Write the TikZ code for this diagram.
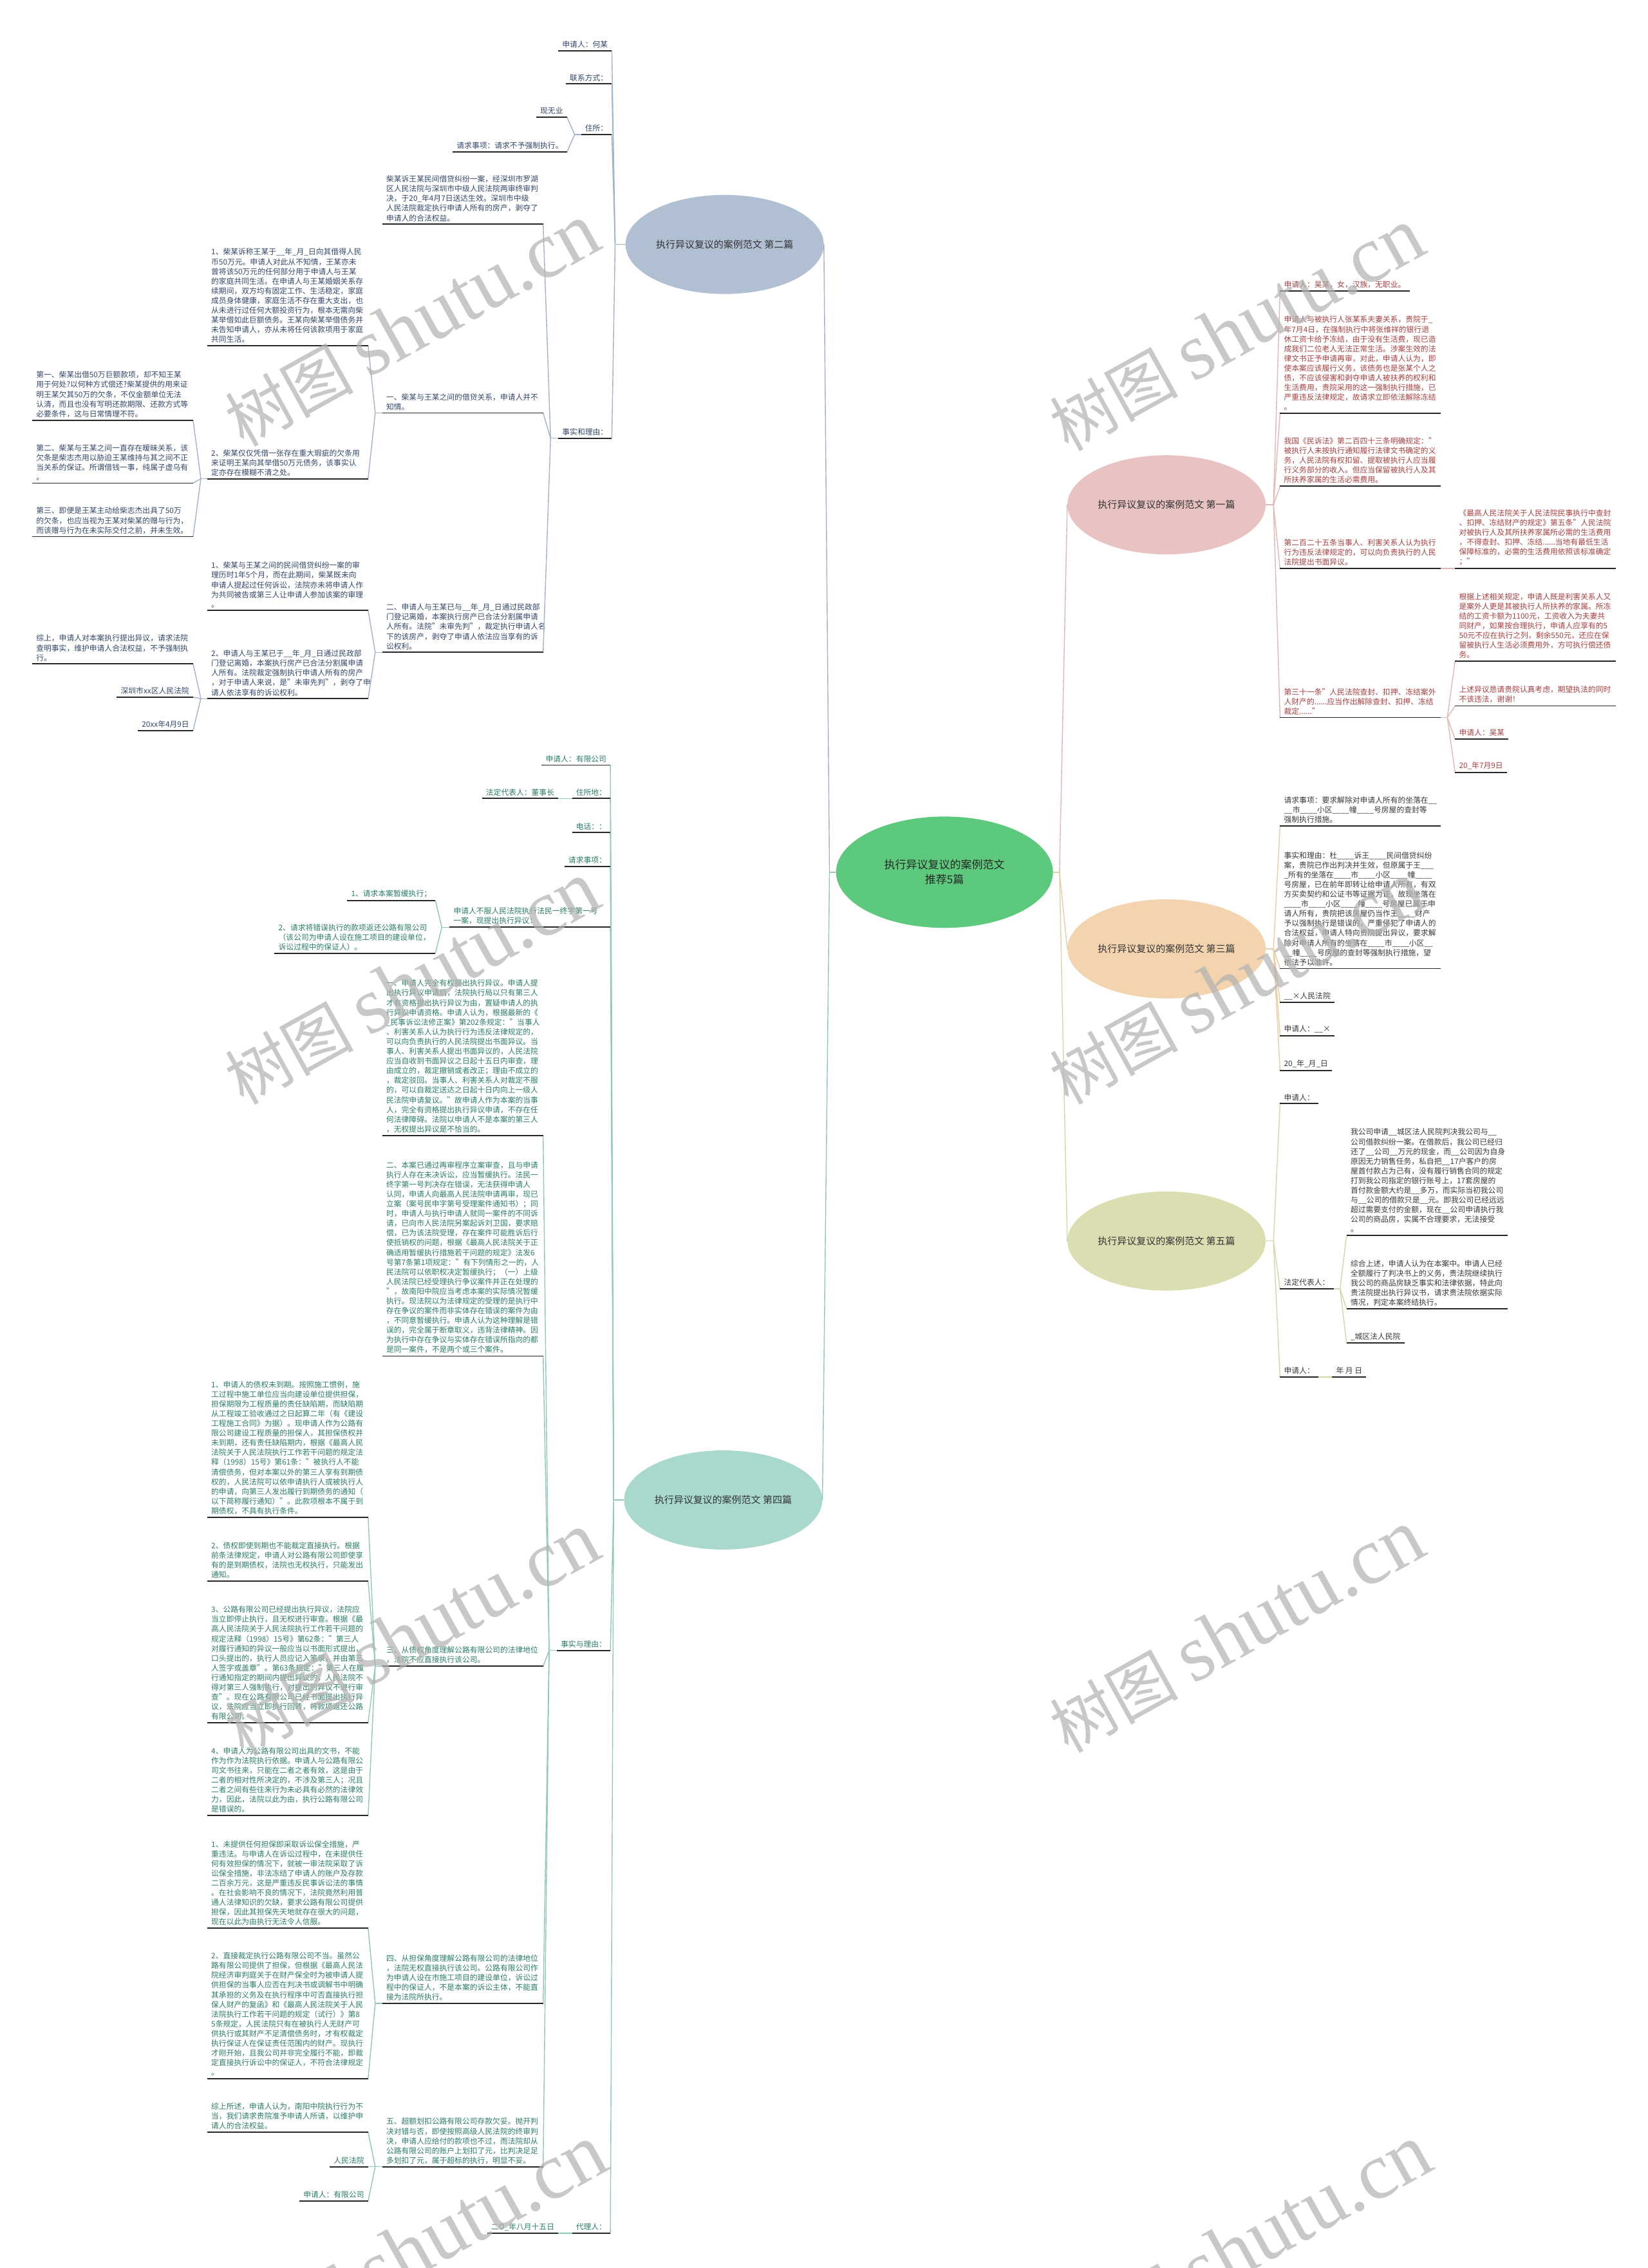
\documentclass[tikz,border=0pt]{standalone}
\usepackage{fontspec}
\setmainfont{Noto Sans CJK SC}
\newfontfamily\wmfont{Liberation Serif}
\usepackage{xcolor}
\usepackage{tikz}
\usetikzlibrary{shapes.geometric}

\definecolor{rootfill}{HTML}{5CC97C}
\definecolor{bluefill}{HTML}{B1BFD3}
\definecolor{blueline}{HTML}{A2B2C8}
\definecolor{bluetext}{HTML}{34476A}
\definecolor{pinkfill}{HTML}{E9C2C2}
\definecolor{pinkline}{HTML}{E3B6B6}
\definecolor{pinktext}{HTML}{A8403F}
\definecolor{peachfill}{HTML}{F4D4AF}
\definecolor{peachline}{HTML}{EBCBA2}
\definecolor{olivefill}{HTML}{DBDEB1}
\definecolor{oliveline}{HTML}{D3D7A9}
\definecolor{tealfill}{HTML}{A8D9CC}
\definecolor{tealline}{HTML}{8FC8B9}
\definecolor{tealtext}{HTML}{2C7D69}
\definecolor{darktext}{HTML}{3A3A3A}

\begin{document}
\begin{tikzpicture}[x=2.2476pt, y=-2.2476pt,
    root/.style={ellipse, fill=rootfill, minimum width=337pt, minimum height=173pt, inner sep=0pt, align=center, font=\fontsize{17}{23}\selectfont, text=black!85},
    topic/.style={ellipse, minimum width=308pt, minimum height=154pt, inner sep=0pt, font=\fontsize{15}{18}\selectfont, text=black!80},
    leaf/.style={inner xsep=6pt, inner ysep=4pt, align=left, font=\fontsize{11.8}{15.1}\selectfont},
    para/.style={text width=237.5pt},
    leafb/.style={leaf, text=bluetext},
    leafp/.style={leaf, text=pinktext},
    leafo/.style={leaf, text=darktext},
    leafg/.style={leaf, text=darktext},
    leaft/.style={leaf, text=tealtext},
    uline/.style={line width=1.8pt, black!85},
    linkb/.style={line width=1.4pt, blueline},
    linkp/.style={line width=1.4pt, pinkline},
    linko/.style={line width=1.4pt, peachline},
    linkg/.style={line width=1.4pt, oliveline},
    linkt/.style={line width=1.4pt, tealline},
    wmark/.style={rotate=29, text=black!30, opacity=0.7, inner sep=0pt}]

    \useasboundingbox[fill=white] (0,0) rectangle (1139,1568);

    % centre and topics
    \node[root] (root) at (653,603) {执行异议复议的案例范文\\推荐5篇};
    \node[topic, fill=bluefill] (b2) at (501,169) {执行异议复议的案例范文 第二篇};
    \node[topic, fill=tealfill] (b4) at (500,1037) {执行异议复议的案例范文 第四篇};
    \node[topic, fill=pinkfill] (b1) at (806.5,349) {执行异议复议的案例范文 第一篇};
    \node[topic, fill=peachfill] (b3) at (806.5,656) {执行异议复议的案例范文 第三篇};
    \node[topic, fill=olivefill] (b5) at (806.5,858) {执行异议复议的案例范文 第五篇};

    % second case (left, top)
    \node[leafb, anchor=south east] (a2name) at (423,35) {申请人：何某};
    \node[leafb, anchor=south east] (a2tel) at (423,58) {联系方式：};
    \node[leafb, anchor=south east] (a2addr) at (423,93) {住所：};
    \node[leafb, anchor=south east] (a2job) at (392,81) {现无业};
    \node[leafb, anchor=south east] (a2req) at (392,105) {请求事项：请求不予强制执行。};
    \node[leafb, anchor=south east] (a2fact) at (423,303) {事实和理由：};
    \node[leafb, para, anchor=south east] (a2case) at (375.5,155) {柴某诉王某民间借贷纠纷一案，经深圳市罗湖\\区人民法院与深圳市中级人民法院两审终审判\\决，于20\_年4月7日送达生效。深圳市中级\\人民法院裁定执行申请人所有的房产，剥夺了\\申请人的合法权益。};
    \node[leafb, para, anchor=south east] (a2one) at (375.5,285.5) {一、柴某与王某之间的借贷关系，申请人并不\\知情。};
    \node[leafb, para, anchor=south east] (a2two) at (375.5,451) {二、申请人与王某已与\_\_年\_月\_日通过民政部\\门登记离婚，本案执行房产已合法分割属申请\\人所有。法院"未审先判"，裁定执行申请人名\\下的该房产，剥夺了申请人依法应当享有的诉\\讼权利。};
    \node[leafb, para, anchor=south east] (a2oneA) at (254.5,239) {1、柴某诉称王某于\_\_年\_月\_日向其借得人民\\币50万元。申请人对此从不知情，王某亦未\\曾将该50万元的任何部分用于申请人与王某\\的家庭共同生活。在申请人与王某婚姻关系存\\续期间，双方均有固定工作、生活稳定，家庭\\成员身体健康，家庭生活不存在重大支出，也\\从未进行过任何大额投资行为，根本无需向柴\\某举借如此巨额债务。王某向柴某举借债务并\\未告知申请人，亦从未将任何该款项用于家庭\\共同生活。};
    \node[leafb, para, anchor=south east] (a2oneB) at (254.5,331) {2、柴某仅仅凭借一张存在重大瑕疵的欠条用\\来证明王某向其举借50万元债务，该事实认\\定亦存在模糊不清之处。};
    \node[leafb, para, anchor=south east] (a2first) at (133.5,290.5) {第一、柴某出借50万巨额款项，却不知王某\\用于何处?以何种方式偿还?柴某提供的用来证\\明王某欠其50万的欠条，不仅金额单位无法\\认清，而且也没有写明还款期限、还款方式等\\必要条件，这与日常情理不符。};
    \node[leafb, para, anchor=south east] (a2second) at (133.5,334) {第二、柴某与王某之间一直存在暧昧关系，该\\欠条是柴志杰用以胁迫王某维持与其之间不正\\当关系的保证。所谓借钱一事，纯属子虚乌有\\。};
    \node[leafb, para, anchor=south east] (a2third) at (133.5,371) {第三、即便是王某主动给柴志杰出具了50万\\的欠条，也应当视为王某对柴某的赠与行为，\\而该赠与行为在未实际交付之前，并未生效。};
    \node[leafb, para, anchor=south east] (a2twoA) at (254.5,422) {1、柴某与王某之间的民间借贷纠纷一案的审\\理历时1年5个月，而在此期间，柴某既未向\\申请人提起过任何诉讼，法院亦未将申请人作\\为共同被告或第三人让申请人参加该案的审理\\。};
    \node[leafb, para, anchor=south east] (a2twoB) at (254.5,483) {2、申请人与王某已于\_\_年\_月\_日通过民政部\\门登记离婚，本案执行房产已合法分割属申请\\人所有。法院裁定强制执行申请人所有的房产\\，对于申请人来说，是"未审先判"，剥夺了申\\请人依法享有的诉讼权利。};
    \node[leafb, para, anchor=south east] (a2sum) at (133.5,459) {综上，申请人对本案执行提出异议，请求法院\\查明事实，维护申请人合法权益，不予强制执\\行。};
    \node[leafb, anchor=south east] (a2court) at (133.5,482) {深圳市xx区人民法院};
    \node[leafb, anchor=south east] (a2date) at (133.5,505) {20xx年4月9日};

    % first case (right, top)
    \node[leafp, anchor=south west] (a1name) at (885,201) {申请人：吴某，女，汉族，无职业。};
    \node[leafp, para, anchor=south west] (a1froz) at (885,285.6) {申请人与被执行人张某系夫妻关系，贵院于\_\\年7月4日，在强制执行中将张维祥的银行退\\休工资卡给予冻结，由于没有生活费，现已造\\成我们二位老人无法正常生活。涉案生效的法\\律文书正予申请再审，对此，申请人认为，即\\使本案应该履行义务，该债务也是张某个人之\\债，不应该侵害和剥夺申请人被扶养的权利和\\生活费用，贵院采用的这一强制执行措施，已\\严重违反法律规定，故请求立即依法解除冻结\\。};
    \node[leafp, para, anchor=south west] (a1law) at (885,336) {我国《民诉法》第二百四十三条明确规定："\\被执行人未按执行通知履行法律文书确定的义\\务，人民法院有权扣留、提取被执行人应当履\\行义务部分的收入。但应当保留被执行人及其\\所扶养家属的生活必需费用。};
    \node[leafp, para, anchor=south west] (a1art) at (885,393) {第二百二十五条当事人、利害关系人认为执行\\行为违反法律规定的，可以向负责执行的人民\\法院提出书面异议。};
    \node[leafp, para, anchor=south west] (a1spc) at (1006,393) {《最高人民法院关于人民法院民事执行中查封\\、扣押、冻结财产的规定》第五条"人民法院\\对被执行人及其所扶养家属所必需的生活费用\\，不得查封、扣押、冻结......当地有最低生活\\保障标准的，必需的生活费用依照该标准确定\\；"};
    \node[leafp, para, anchor=south west] (a1art31) at (885,496) {第三十一条"人民法院查封、扣押、冻结案外\\人财产的......应当作出解除查封、扣押、冻结\\裁定......"};
    \node[leafp, para, anchor=south west] (a1basis) at (1006,457) {根据上述相关规定，申请人既是利害关系人又\\是案外人更是其被执行人所扶养的家属。所冻\\结的工资卡额为1100元，工资收入为夫妻共\\同财产，如果按合理执行，申请人应享有的5\\50元不应在执行之列，剩余550元，还应在保\\留被执行人生活必须费用外，方可执行偿还债\\务。};
    \node[leafp, para, anchor=south west] (a1plea) at (1006,488) {上述异议恳请贵院认真考虑，期望执法的同时\\不该违法，谢谢！};
    \node[leafp, anchor=south west] (a1sign) at (1006,511) {申请人：吴某};
    \node[leafp, anchor=south west] (a1date) at (1006,534) {20\_年7月9日};

    % third case
    \node[leafo, para, anchor=south west] (a3req) at (885,571) {请求事项：要求解除对申请人所有的坐落在\_\_\\\_\_市\_\_\_\_小区\_\_\_\_幢\_\_\_\_号房屋的查封等\\强制执行措施。};
    \node[leafo, para, anchor=south west] (a3fact) at (885,669.6) {事实和理由：杜\_\_\_\_诉王\_\_\_\_民间借贷纠纷\\案，贵院已作出判决并生效，但原属于王\_\_\_\\\_所有的坐落在\_\_\_\_市\_\_\_\_小区\_\_\_\_幢\_\_\_\_\\号房屋，已在前年即转让给申请人所有，有双\\方买卖契约和公证书等证据为证，故现坐落在\\\_\_\_\_市\_\_\_\_小区\_\_\_\_幢\_\_\_\_号房屋已属于申\\请人所有，贵院把该房屋仍当作王\_\_\_\_财产\\予以强制执行是错误的，严重侵犯了申请人的\\合法权益，申请人特向贵院提出异议，要求解\\除对申请人所有的坐落在\_\_\_\_市\_\_\_\_小区\_\_\\\_\_幢\_\_\_\_号房屋的查封等强制执行措施，望\\依法予以准许。};
    \node[leafo, anchor=south west] (a3court) at (885,693) {\_\_×人民法院};
    \node[leafo, anchor=south west] (a3sign) at (885,716) {申请人：\_\_×};
    \node[leafo, anchor=south west] (a3date) at (885,740) {20\_年\_月\_日};

    % fifth case
    \node[leafg, anchor=south west] (a5name) at (885,763) {申请人：};
    \node[leafg, anchor=south west] (a5rep) at (885,891) {法定代表人：};
    \node[leafg, anchor=south west] (a5sign) at (885,952) {申请人：};
    \node[leafg, anchor=south west] (a5date) at (921,952) {年 月 日};
    \node[leafg, para, anchor=south west] (a5case) at (931,854) {我公司申请\_\_城区法人民院判决我公司与\_\_\\公司借款纠纷一案。在借款后，我公司已经归\\还了\_\_公司\_\_万元的现金，而\_\_公司因为自身\\原因无力销售任务，私自把\_\_17户客户的房\\屋首付款占为己有，没有履行销售合同的规定\\打到我公司指定的银行账号上，17套房屋的\\首付款金额大约是\_\_多万，而实际当初我公司\\与\_\_公司的借款只是\_\_元。即我公司已经远远\\超过需要支付的金额，现在\_\_公司申请执行我\\公司的商品房，实属不合理要求，无法接受\\。};
    \node[leafg, para, anchor=south west] (a5sum) at (931,905) {综合上述，申请人认为在本案中。申请人已经\\全额履行了判决书上的义务，贵法院继续执行\\我公司的商品房缺乏事实和法律依据，特此向\\贵法院提出执行异议书，请求贵法院依据实际\\情况，判定本案终结执行。};
    \node[leafg, anchor=south west] (a5court) at (931,928.5) {\_城区法人民院};

    % fourth case (left, bottom)
    \node[leaft, anchor=south east] (a4name) at (422,529) {申请人：有限公司};
    \node[leaft, anchor=south east] (a4addr) at (422,552) {住所地：};
    \node[leaft, anchor=south east] (a4rep) at (386,552) {法定代表人：董事长};
    \node[leaft, anchor=south east] (a4tel) at (422,575.6) {电话：：};
    \node[leaft, anchor=south east] (a4req) at (422,599) {请求事项：};
    \node[leaft, para, anchor=south east] (a4obj) at (422,641) {申请人不服人民法院执行法民一终字第一号\\一案，现提出执行异议：};
    \node[leaft, anchor=south east] (a4reqA) at (301,622.5) {1、请求本案暂缓执行；};
    \node[leaft, para, anchor=south east] (a4reqB) at (301,659) {2、请求将错误执行的款项返还公路有限公司\\（该公司为申请人设在施工项目的建设单位，\\诉讼过程中的保证人）。};
    \node[leaft, anchor=south east] (a4fact) at (422,1141) {事实与理由：};
    \node[leaft, para, anchor=south east] (a4one) at (375.5,785) {一、申请人完全有权提出执行异议。申请人提\\出执行异议申请后，法院执行局以只有第三人\\才有资格提出执行异议为由，置疑申请人的执\\行异议申请资格。申请人认为，根据最新的《\\\_民事诉讼法修正案》第202条规定："当事人\\、利害关系人认为执行行为违反法律规定的，\\可以向负责执行的人民法院提出书面异议。当\\事人、利害关系人提出书面异议的，人民法院\\应当自收到书面异议之日起十五日内审查，理\\由成立的，裁定撤销或者改正；理由不成立的\\，裁定驳回。当事人、利害关系人对裁定不服\\的，可以自裁定送达之日起十日内向上一级人\\民法院申请复议。"故申请人作为本案的当事\\人，完全有资格提出执行异议申请，不存在任\\何法律障碍。法院以申请人不是本案的第三人\\，无权提出异议是不恰当的。};
    \node[leaft, para, anchor=south east] (a4two) at (375.5,937.5) {二、本案已通过再审程序立案审查，且与申请\\执行人存在未决诉讼，应当暂缓执行。法民一\\终字第一号判决存在错误，无法获得申请人\\认同，申请人向最高人民法院申请再审，现已\\立案（案号民申字第号受理案件通知书）；同\\时，申请人与执行申请人就同一案件的不同诉\\请，已向市人民法院另案起诉刘卫国，要求赔\\偿，已为该法院受理，存在案件可能胜诉后行\\使抵销权的问题，根据《最高人民法院关于正\\确适用暂缓执行措施若干问题的规定》法发6\\号第7条第1项规定："有下列情形之一的，人\\民法院可以依职权决定暂缓执行；（一）上级\\人民法院已经受理执行争议案件并正在处理的\\"，故南阳中院应当考虑本案的实际情况暂缓\\执行。现法院以为法律规定的受理的是执行中\\存在争议的案件而非实体存在错误的案件为由\\，不同意暂缓执行。申请人认为这种理解是错\\误的，完全属于断章取义，违背法律精神。因\\为执行中存在争议与实体存在错误所指向的都\\是同一案件，不是两个或三个案件。};
    \node[leaft, para, anchor=south east] (a4three) at (375.5,1152) {三、从债权角度理解公路有限公司的法律地位\\，法院不应直接执行该公司。};
    \node[leaft, para, anchor=south east] (a4threeA) at (254.5,1049) {1、申请人的债权未到期。按照施工惯例，施\\工过程中施工单位应当向建设单位提供担保，\\担保期限为工程质量的责任缺陷期，而缺陷期\\从工程竣工验收通过之日起算二年（有《建设\\工程施工合同》为据）。现申请人作为公路有\\限公司建设工程质量的担保人，其担保债权并\\未到期，还有责任缺陷期内，根据《最高人民\\法院关于人民法院执行工作若干问题的规定法\\释（1998）15号》第61条："被执行人不能\\清偿债务，但对本案以外的第三人享有到期债\\权的，人民法院可以依申请执行人或被执行人\\的申请，向第三人发出履行到期债务的通知（\\以下简称履行通知）"。此款项根本不属于到\\期债权，不具有执行条件。};
    \node[leaft, para, anchor=south east] (a4threeB) at (254.5,1093) {2、债权即使到期也不能裁定直接执行。根据\\前条法律规定，申请人对公路有限公司即使享\\有的是到期债权，法院也无权执行，只能发出\\通知。};
    \node[leaft, para, anchor=south east] (a4threeC) at (254.5,1191) {3、公路有限公司已经提出执行异议，法院应\\当立即停止执行，且无权进行审查。根据《最\\高人民法院关于人民法院执行工作若干问题的\\规定法释（1998）15号》第62条："第三人\\对履行通知的异议一般应当以书面形式提出，\\口头提出的，执行人员应记入笔录，并由第三\\人签字或盖章"。第63条规定："第三人在履\\行通知指定的期间内提出异议的，人民法院不\\得对第三人强制执行，对提出的异议不进行审\\查"。现在公路有限公司已经书面提出执行异\\议，法院应当立即执行回转，将款项返还公路\\有限公司。};
    \node[leaft, para, anchor=south east] (a4threeD) at (254.5,1255) {4、申请人为公路有限公司出具的文书，不能\\作为作为法院执行依据。申请人与公路有限公\\司文书往来，只能在二者之者有效，这是由于\\二者的相对性所决定的，不涉及第三人；况且\\二者之间有些往来行为未必具有必然的法律效\\力，因此，法院以此为由，执行公路有限公司\\是错误的。};
    \node[leaft, para, anchor=south east] (a4four) at (375.5,1385) {四、从担保角度理解公路有限公司的法律地位\\，法院无权直接执行该公司。公路有限公司作\\为申请人设在市施工项目的建设单位，诉讼过\\程中的保证人，不是本案的诉讼主体，不能直\\接为法院所执行。};
    \node[leaft, para, anchor=south east] (a4fourA) at (254.5,1333) {1、未提供任何担保即采取诉讼保全措施，严\\重违法。与申请人在诉讼过程中，在未提供任\\何有效担保的情况下，就被一审法院采取了诉\\讼保全措施，非法冻结了申请人的账户及存款\\二百余万元，这是严重违反民事诉讼法的事情\\。在社会影响不良的情况下，法院竟然利用普\\通人法律知识的欠缺，要求公路有限公司提供\\担保，因此其担保先天地就存在很大的问题，\\现在以此为由执行无法令人信服。};
    \node[leaft, para, anchor=south east] (a4fourB) at (254.5,1437) {2、直接裁定执行公路有限公司不当。虽然公\\路有限公司提供了担保，但根据《最高人民法\\院经济审判庭关于在财产保全时为被申请人提\\供担保的当事人应否在判决书或调解书中明确\\其承担的义务及在执行程序中可否直接执行担\\保人财产的复函》和《最高人民法院关于人民\\法院执行工作若干问题的规定（试行）》第8\\5条规定，人民法院只有在被执行人无财产可\\供执行或其财产不足清偿债务时，才有权裁定\\执行保证人在保证责任范围内的财产。现执行\\才刚开始，且我公司并非完全履行不能，即裁\\定直接执行诉讼中的保证人，不符合法律规定\\。};
    \node[leaft, para, anchor=south east] (a4five) at (375.5,1498) {五、超额划扣公路有限公司存款欠妥。抛开判\\决对错与否，即使按照高级人民法院的终审判\\决，申请人应给付的款项也不过，而法院却从\\公路有限公司的账户上划扣了元，比判决足足\\多划扣了元，属于超标的执行，明显不妥。};
    \node[leaft, para, anchor=south east] (a4fiveA) at (254.5,1474) {综上所述，申请人认为，南阳中院执行行为不\\当，我们请求贵院准予申请人所请，以维护申\\请人的合法权益。};
    \node[leaft, anchor=south east] (a4fiveB) at (254.5,1498) {人民法院};
    \node[leaft, anchor=south east] (a4fiveC) at (254.5,1521.6) {申请人：有限公司};
    \node[leaft, anchor=south east] (a4agent) at (422,1544) {代理人：};
    \node[leaft, anchor=south east] (a4date) at (386,1544) {二O\_年八月十五日};

    % links from the centre
    \draw[linkb] (root.west) -- ([xshift=-10pt]root.west) -- (b2.east);
    \draw[linkt] (root.west) -- ([xshift=-10pt]root.west) -- (b4.east);
    \draw[linkp] (root.east) -- ([xshift=10pt]root.east) -- (b1.west);
    \draw[linko] (root.east) -- ([xshift=10pt]root.east) -- (b3.west);
    \draw[linkg] (root.east) -- ([xshift=10pt]root.east) -- (b5.west);

    % second case links
    \coordinate (j2) at ([xshift=-16pt]b2.west);
    \draw[linkb] (b2.west) -- (j2);
    \foreach \n in {a2name,a2tel,a2addr,a2fact}
        \draw[linkb] (j2) -- (\n.south east);
    \coordinate[xshift=-10pt] (j2addr) at (a2addr.south west);
    \coordinate[xshift=-12pt] (j2fact) at (a2fact.south west);
    \coordinate[xshift=-11pt] (j2one) at (a2one.south west);
    \coordinate[xshift=-10pt] (j2oneB) at (a2oneB.south west);
    \coordinate[xshift=-11pt] (j2two) at (a2two.south west);
    \coordinate[xshift=-10pt] (j2twoB) at (a2twoB.south west);
    \draw[linkb] (a2addr.south west) -- (j2addr);
    \draw[linkb] (a2fact.south west) -- (j2fact);
    \draw[linkb] (a2one.south west) -- (j2one);
    \draw[linkb] (a2oneB.south west) -- (j2oneB);
    \draw[linkb] (a2two.south west) -- (j2two);
    \draw[linkb] (a2twoB.south west) -- (j2twoB);
    \foreach \n in {a2job,a2req} \draw[linkb] (j2addr) -- (\n.south east);
    \foreach \n in {a2case,a2one,a2two} \draw[linkb] (j2fact) -- (\n.south east);
    \foreach \n in {a2oneA,a2oneB} \draw[linkb] (j2one) -- (\n.south east);
    \foreach \n in {a2first,a2second,a2third} \draw[linkb] (j2oneB) -- (\n.south east);
    \foreach \n in {a2twoA,a2twoB} \draw[linkb] (j2two) -- (\n.south east);
    \foreach \n in {a2sum,a2court,a2date} \draw[linkb] (j2twoB) -- (\n.south east);

    % first case links
    \coordinate (j1) at ([xshift=12pt]b1.east);
    \draw[linkp] (b1.east) -- (j1);
    \foreach \n in {a1name,a1froz,a1law,a1art,a1art31}
        \draw[linkp] (j1) -- (\n.south west);
    \draw[linkp] (a1art.south east) -- (a1spc.south west);
    \coordinate[xshift=10pt] (j1art31) at (a1art31.south east);
    \draw[linkp] (a1art31.south east) -- (j1art31);
    \foreach \n in {a1basis,a1plea,a1sign,a1date} \draw[linkp] (j1art31) -- (\n.south west);

    % third case links
    \coordinate (j3) at ([xshift=12pt]b3.east);
    \draw[linko] (b3.east) -- (j3);
    \foreach \n in {a3req,a3fact,a3court,a3sign,a3date}
        \draw[linko] (j3) -- (\n.south west);

    % fifth case links
    \coordinate (j5) at ([xshift=12pt]b5.east);
    \draw[linkg] (b5.east) -- (j5);
    \foreach \n in {a5name,a5rep,a5sign}
        \draw[linkg] (j5) -- (\n.south west);
    \coordinate[xshift=10pt] (j5rep) at (a5rep.south east);
    \draw[linkg] (a5rep.south east) -- (j5rep);
    \foreach \n in {a5case,a5sum,a5court} \draw[linkg] (j5rep) -- (\n.south west);
    \draw[linkg] (a5sign.south east) -- (a5date.south west);

    % fourth case links
    \coordinate (j4) at ([xshift=-16pt]b4.west);
    \draw[linkt] (b4.west) -- (j4);
    \foreach \n in {a4name,a4addr,a4tel,a4req,a4obj,a4fact,a4agent}
        \draw[linkt] (j4) -- (\n.south east);
    \draw[linkt] (a4addr.south west) -- (a4rep.south east);
    \draw[linkt] (a4agent.south west) -- (a4date.south east);
    \coordinate[xshift=-12pt] (j4obj) at (a4obj.south west);
    \coordinate[xshift=-12pt] (j4fact) at (a4fact.south west);
    \coordinate[xshift=-11pt] (j4three) at (a4three.south west);
    \coordinate[xshift=-11pt] (j4four) at (a4four.south west);
    \coordinate[xshift=-11pt] (j4five) at (a4five.south west);
    \draw[linkt] (a4obj.south west) -- (j4obj);
    \draw[linkt] (a4fact.south west) -- (j4fact);
    \draw[linkt] (a4three.south west) -- (j4three);
    \draw[linkt] (a4four.south west) -- (j4four);
    \draw[linkt] (a4five.south west) -- (j4five);
    \foreach \n in {a4reqA,a4reqB} \draw[linkt] (j4obj) -- (\n.south east);
    \foreach \n in {a4one,a4two,a4three,a4four,a4five} \draw[linkt] (j4fact) -- (\n.south east);
    \foreach \n in {a4threeA,a4threeB,a4threeC,a4threeD} \draw[linkt] (j4three) -- (\n.south east);
    \foreach \n in {a4fourA,a4fourB} \draw[linkt] (j4four) -- (\n.south east);
    \foreach \n in {a4fiveA,a4fiveB,a4fiveC} \draw[linkt] (j4five) -- (\n.south east);

    % underlines
    \foreach \n in {a2name,a2tel,a2addr,a2job,a2req,a2fact,a2case,a2one,a2two,a2oneA,a2oneB,
        a2first,a2second,a2third,a2twoA,a2twoB,a2sum,a2court,a2date,
        a1name,a1froz,a1law,a1art,a1spc,a1art31,a1basis,a1plea,a1sign,a1date,
        a3req,a3fact,a3court,a3sign,a3date,
        a5name,a5rep,a5sign,a5date,a5case,a5sum,a5court,
        a4name,a4addr,a4rep,a4tel,a4req,a4obj,a4reqA,a4reqB,a4fact,a4one,a4two,a4three,
        a4threeA,a4threeB,a4threeC,a4threeD,a4four,a4fourA,a4fourB,a4five,a4fiveA,a4fiveB,
        a4fiveC,a4agent,a4date}
        \draw[uline] (\n.south west) -- (\n.south east);

    % watermarks
    \foreach \wx/\wy [count=\i] in {285/225,855/228,285/680,855/680,285/1130,855/1128,290/1553,860/1553}
        \node[wmark] (wm\i) at (\wx,\wy) {\fontsize{100}{100}\selectfont 树图 {\wmfont\fontsize{125}{125}\selectfont shutu.cn}};
\end{tikzpicture}
\end{document}
